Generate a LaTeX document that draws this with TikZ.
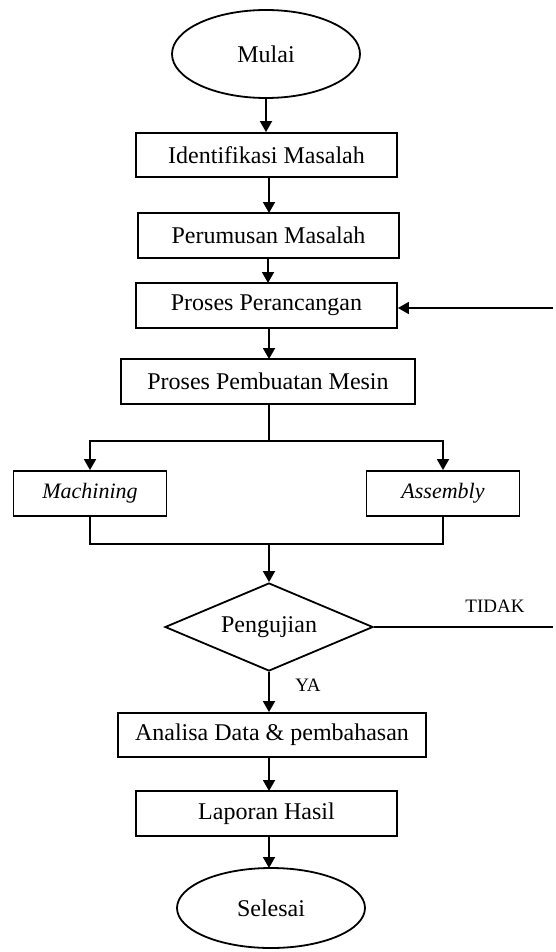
\documentclass[tikz,border=0pt]{standalone}
\usepackage{fontspec}
\setmainfont{Liberation Serif}
\usetikzlibrary{shapes.geometric,arrows.meta}
\begin{document}
\begin{tikzpicture}[x=1pt,y=-1pt,
  line width=1.8pt,
  arr/.style={-{Triangle[length=11pt,width=12pt]}},
  procbox/.style={draw,rectangle,inner sep=0pt,minimum height=45pt,font=\fontsize{24}{28}\selectfont},
  termin/.style={draw,ellipse,inner sep=0pt,minimum width=188pt,font=\fontsize{24}{28}\selectfont},
  small/.style={font=\fontsize{19}{22}\selectfont},
  smallbox/.style={procbox,minimum width=153pt,font=\fontsize{22}{26}\selectfont\itshape}]
\useasboundingbox (0,0) rectangle (555,952);
\node[termin,minimum height=88pt] (mulai) at (266,54) {Mulai};
\node[procbox,minimum width=261pt,minimum height=44pt] (ident) at (266.5,155) {Identifikasi Masalah};
\node[procbox,minimum width=261pt] (perum) at (268.5,235.5) {Perumusan Masalah};
\node[procbox,minimum width=261pt] (peranc) at (266.5,305.5) {Proses Perancangan};
\node[procbox,minimum width=294pt] (buat) at (268,381.5) {Proses Pembuatan Mesin};
\node[smallbox] (mach) at (90,493.5) {Machining};
\node[smallbox] (asm) at (443,493.5) {Assembly};
\node[draw,diamond,inner sep=0pt,shape aspect=2.36,minimum width=208pt,minimum height=88pt,font=\fontsize{24}{28}\selectfont] (uji) at (269,627) {Pengujian};
\node[procbox,minimum width=308pt,minimum height=44pt] (anal) at (272,735) {Analisa Data \& pembahasan};
\node[procbox,minimum width=261pt] (lap) at (266.5,813.5) {Laporan Hasil};
\node[termin,minimum height=80pt] (sel) at (271,908) {Selesai};
\coordinate (split) at (269,441);
\coordinate (join) at (269,544);
\coordinate (tidakend) at (553,627);
\coordinate (backstart) at (553,308);
\node[small] (tidak) at (495,606) {TIDAK};
\node[small] (ya) at (308,685) {YA};
\draw[arr] (mulai.south) -- (mulai.south |- ident.north);
\draw[arr] (269,177) -- (269,213);
\draw[arr] (268,258) -- (268,283);
\draw[arr] (269,328) -- (269,359);
\draw (buat.south -| split) -- (split);
\draw[arr] (split) -| (mach.north);
\draw[arr] (split) -| (asm.north);
\draw (mach.south) |- (join);
\draw (asm.south) |- (join);
\draw[arr] (join) -- (uji.north);
\draw (uji.east) -- (tidakend);
\draw[arr] (backstart) -- (peranc.east |- backstart);
\draw[arr] (uji.south) -- (uji.south |- anal.north);
\draw[arr] (269,757) -- (269,791);
\draw[arr] (269,836) -- (269,868);
\end{tikzpicture}
\end{document}
